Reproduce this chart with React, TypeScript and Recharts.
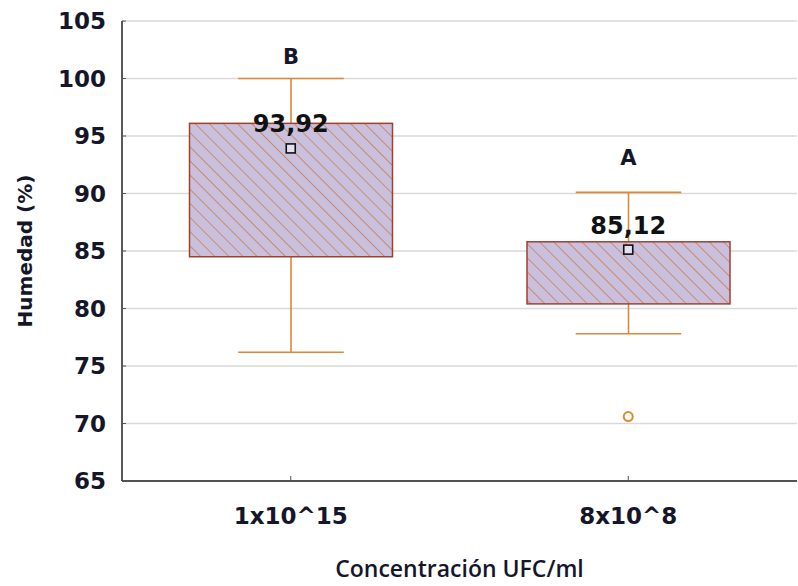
import React from "react"
import { ComposedChart, Bar, Line, XAxis, YAxis, CartesianGrid, LabelList, Label } from "recharts"

const categories = ["1x10^15", "8x10^8"]
const whiskerLow = [76.2, 77.8]
const boxLow = [84.5, 80.4]
const boxHigh = [96.1, 85.8]
const whiskerHigh = [100.0, 90.1]
const medians = [93.92, 85.12]
const outliers: (number | null)[] = [null, 70.6]
const letters = ["B", "A"]
const yTicks = [65, 70, 75, 80, 85, 90, 95, 100, 105]

const data = categories.map((name, i) => ({
  name,
  lo: whiskerLow[i],
  q1: boxLow[i],
  q3: boxHigh[i],
  hi: whiskerHigh[i],
  median: medians[i],
  outlier: outliers[i],
  letter: letters[i],
}))

const INK = "#16162a"
const WHISKER = "#d98a38"
const BOX_FILL = "#c9c0dd"
const HATCH = "#cf6a33"
const BOX_EDGE = "#a0402e"
const letterGap = [22, 35]

const tickFont = { fill: INK, fontFamily: "DejaVu Sans", fontWeight: 700, fontSize: 23 }

function BoxShape(props: any) {
  const { x, y, width, height, payload, index } = props
  const { lo, hi, q1, q3 } = payload
  const top0 = Math.min(y, y + height)
  const h = Math.abs(height)
  const toY = (v: number) => top0 + ((hi - v) / (hi - lo)) * h
  const cx = x + width / 2
  const cap = width * 0.26
  const bTop = toY(q3)
  const bBot = toY(q1)
  const pid = `hatch-${index}`
  return (
    <g>
      <defs>
        <pattern id={pid} patternUnits="userSpaceOnUse" width={10} height={10} patternTransform="rotate(-45)">
          <line x1={0} y1={0} x2={0} y2={10} stroke={HATCH} strokeWidth={1.3} />
        </pattern>
      </defs>
      <line x1={cx} x2={cx} y1={toY(hi)} y2={bTop} stroke={WHISKER} strokeWidth={1.6} />
      <line x1={cx} x2={cx} y1={bBot} y2={toY(lo)} stroke={WHISKER} strokeWidth={1.6} />
      <line x1={cx - cap} x2={cx + cap} y1={toY(hi)} y2={toY(hi)} stroke={WHISKER} strokeWidth={1.6} />
      <line x1={cx - cap} x2={cx + cap} y1={toY(lo)} y2={toY(lo)} stroke={WHISKER} strokeWidth={1.6} />
      <rect x={x} y={bTop} width={width} height={bBot - bTop} fill={BOX_FILL} />
      <rect x={x} y={bTop} width={width} height={bBot - bTop} fill={`url(#${pid})`} stroke={BOX_EDGE} strokeWidth={1.5} />
    </g>
  )
}

function MedianDot(props: any) {
  const { cx, cy } = props
  if (cx == null || cy == null) return <g />
  return <rect x={cx - 4.5} y={cy - 4.5} width={9} height={9} fill="#e4e0ee" stroke="#111" strokeWidth={1.6} />
}

function OutlierDot(props: any) {
  const { cx, cy, value } = props
  if (value == null || cx == null || cy == null) return <g />
  return <circle cx={cx} cy={cy} r={4.5} fill="#fff" stroke="#e08a2e" strokeWidth={2} />
}

function MedianLabel(props: any) {
  const { x, y, value } = props
  return (
    <text x={x} y={y - 16} textAnchor="middle" fill="#111" fontFamily="DejaVu Sans" fontWeight={700} fontSize={24}>
      {String(value).replace(".", ",")}
    </text>
  )
}

function LetterLabel(props: any) {
  const { x, y, width, value, index } = props
  return (
    <text x={x + width / 2} y={y - letterGap[index]} dy="0.36em" textAnchor="middle" fill={INK} fontFamily="DejaVu Sans" fontWeight={700} fontSize={21}>
      {value}
    </text>
  )
}

function YTitle(props: any) {
  const { viewBox } = props
  const cx = viewBox.x + 25
  const cy = viewBox.y + viewBox.height / 2
  return (
    <text x={cx} y={cy} transform={`rotate(-90 ${cx} ${cy})`} textAnchor="middle" dominantBaseline="central" fill={INK} fontFamily="DejaVu Sans" fontWeight={700} fontSize={20}>
      Humedad (%)
    </text>
  )
}

function XTitle(props: any) {
  const { viewBox } = props
  return (
    <text x={viewBox.x + viewBox.width / 2} y={568} textAnchor="middle" dominantBaseline="central" fill={INK} fontFamily="Open Sans" fontWeight={600} fontSize={23}>
      Concentración UFC/ml
    </text>
  )
}

export default function App() {
  return (
    <div>
      <style>{"body{margin:0}"}</style>
      <ComposedChart width={798} height={586} data={data} margin={{ top: 21, right: 1, left: 0, bottom: 0 }} barCategoryGap="20%">
        <CartesianGrid vertical={false} stroke="#d9d9d9" strokeWidth={1.5} />
        <XAxis
          dataKey="name"
          height={105}
          axisLine={{ stroke: "#222", strokeWidth: 1.5 }}
          tickLine={{ stroke: "#555" }}
          tickSize={-5}
          tickMargin={32}
          tick={tickFont}
        >
          <Label content={<XTitle />} />
        </XAxis>
        <XAxis xAxisId="top" dataKey="name" orientation="top" height={0} tick={false} tickLine={false} axisLine={{ stroke: "#222", strokeWidth: 1.5 }} />
        <YAxis
          domain={[65, 105]}
          ticks={yTicks}
          width={122}
          axisLine={{ stroke: "#222", strokeWidth: 1.5 }}
          tickLine={{ stroke: "#555" }}
          tickSize={-4}
          tickMargin={20}
          tick={tickFont}
        >
          <Label content={<YTitle />} />
        </YAxis>
        <YAxis yAxisId="right" orientation="right" width={0} domain={[65, 105]} ticks={yTicks} tick={() => <g />} tickSize={-4} tickLine={{ stroke: "#333" }} axisLine={{ stroke: "#bbb", strokeWidth: 1.2 }} />
        <Bar dataKey={(d: any) => [d.lo, d.hi]} shape={<BoxShape />} isAnimationActive={false}>
          <LabelList dataKey="letter" content={<LetterLabel />} />
        </Bar>
        <Line dataKey="median" stroke="none" dot={<MedianDot />} activeDot={false} isAnimationActive={false}>
          <LabelList dataKey="median" content={<MedianLabel />} />
        </Line>
        <Line dataKey="outlier" stroke="none" dot={<OutlierDot />} activeDot={false} isAnimationActive={false} />
      </ComposedChart>
    </div>
  )
}
